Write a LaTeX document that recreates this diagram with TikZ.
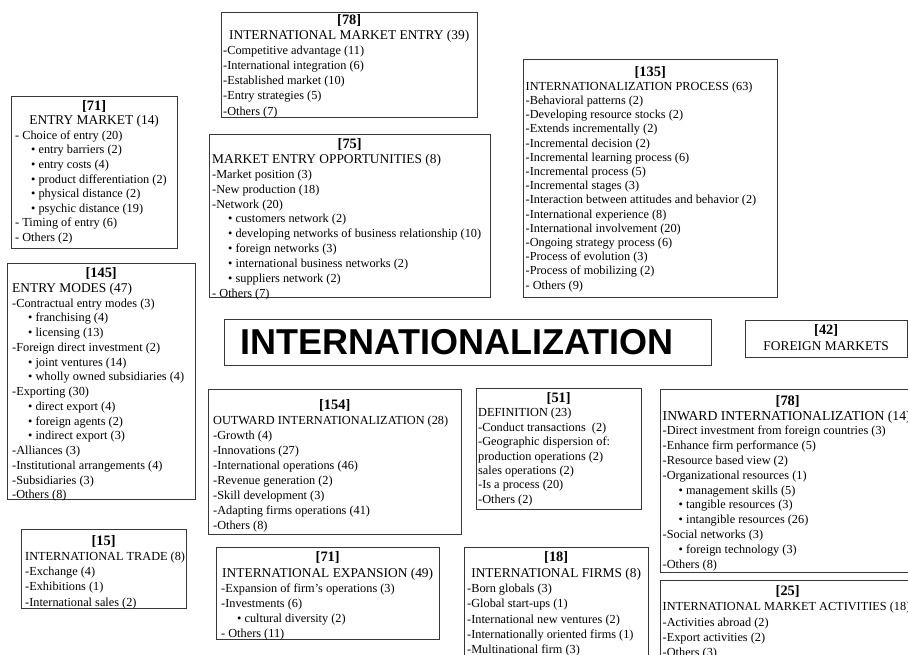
\documentclass[tikz,border=0pt]{standalone}
\usepackage{fontspec}
\setmainfont{Liberation Serif}
\newfontfamily\hvb{Liberation Sans}
\newcommand{\hd}[2]{\makebox[#1][c]{\fontsize{14.4}{14}\selectfont\bfseries #2}}
\newcommand{\ct}[2]{\makebox[#1][c]{#2}}
\newcommand{\hh}[1]{\fontsize{13.4}{14}\selectfont #1}
\newcommand{\bu}{\hspace*{16pt}\textbullet\ }
\begin{document}
\begin{tikzpicture}[x=1pt,y=-1pt,
  bx/.style={draw=black!78, line width=1.1pt, rectangle, inner sep=0pt, anchor=north west},
  tx/.style={anchor=north west, inner sep=0pt, align=left, font=\fontsize{12.3}{#1}\selectfont}]
\useasboundingbox (0,0) rectangle (908,654);
\clip (0,0) rectangle (908,654);

% ENTRY MARKET
\node[bx, minimum width=166pt, minimum height=152pt] (b71a) at (11,96) {};
\node[tx=14.6] (t71a) at (15,100) {\hd{158pt}{[71]}\\
\ct{158pt}{\hh{ENTRY MARKET (14)}}\\
- Choice of entry (20)\\
\bu entry barriers (2)\\
\bu entry costs (4)\\
\bu product differentiation (2)\\
\bu physical distance (2)\\
\bu psychic distance (19)\\
- Timing of entry (6)\\
- Others (2)};

% ENTRY MODES
\node[bx, minimum width=188pt, minimum height=236pt] (b145) at (7,263) {};
\node[tx=14.75] (t145) at (12,267.5) {\hd{178pt}{[145]}\\
\hh{ENTRY MODES (47)}\\
-Contractual entry modes (3)\\
\bu franchising (4)\\
\bu licensing (13)\\
-Foreign direct investment (2)\\
\bu joint ventures (14)\\
\bu wholly owned subsidiaries (4)\\
-Exporting (30)\\
\bu direct export (4)\\
\bu foreign agents (2)\\
\bu indirect export (3)\\
-Alliances (3)\\
-Institutional arrangements (4)\\
-Subsidiaries (3)\\
-Others (8)};

% INTERNATIONAL TRADE
\node[bx, minimum width=165pt, minimum height=79pt] (b15) at (21,529) {};
\node[tx=15.25] (t15) at (25,535) {\hd{157pt}{[15]}\\
INTERNATIONAL TRADE (8)\\
-Exchange (4)\\
-Exhibitions (1)\\
-International sales (2)};

% INTERNATIONAL MARKET ENTRY
\node[bx, minimum width=256pt, minimum height=105pt] (b78a) at (221,12) {};
\node[tx=15.1] (t78a) at (223,14.3) {\hd{252pt}{[78]}\\
\ct{252pt}{\hh{INTERNATIONAL MARKET ENTRY (39)}}\\
-Competitive advantage (11)\\
-International integration (6)\\
-Established market (10)\\
-Entry strategies (5)\\
-Others (7)};

% MARKET ENTRY OPPORTUNITIES
\node[bx, minimum width=281pt, minimum height=163pt] (b75) at (209,134) {};
\node[tx=14.9] (t75) at (212,138.3) {\hd{275pt}{[75]}\\
\hh{MARKET ENTRY OPPORTUNITIES (8)}\\
-Market position (3)\\
-New production (18)\\
-Network (20)\\
\bu customers network (2)\\
\bu developing networks of business relationship (10)\\
\bu foreign networks (3)\\
\bu international business networks (2)\\
\bu suppliers network (2)\\
- Others (7)};

% INTERNATIONALIZATION PROCESS
\node[bx, minimum width=254pt, minimum height=238pt] (b135) at (523,59) {};
\node[tx=14.2] (t135) at (525.5,66) {\hd{249pt}{[135]}\\
INTERNATIONALIZATION PROCESS (63)\\
-Behavioral patterns (2)\\
-Developing resource stocks (2)\\
-Extends incrementally (2)\\
-Incremental decision (2)\\
-Incremental learning process (6)\\
-Incremental process (5)\\
-Incremental stages (3)\\
-Interaction between attitudes and behavior (2)\\
-International experience (8)\\
-International involvement (20)\\
-Ongoing strategy process (6)\\
-Process of evolution (3)\\
-Process of mobilizing (2)\\
- Others (9)};

% CENTRAL
\node[bx, minimum width=487pt, minimum height=46pt] (bc) at (224,319) {};
\node[inner sep=0pt, font=\hvb\bfseries\fontsize{36}{36}\selectfont] (tc) at (457,342) {INTERNATIONALIZATION};

% FOREIGN MARKETS
\node[bx, minimum width=162pt, minimum height=37pt] (b42) at (745,320) {};
\node[tx=16] (t42) at (747,324) {\hd{158pt}{[42]}\\
\ct{158pt}{\hh{FOREIGN MARKETS}}};

% OUTWARD
\node[bx, minimum width=253pt, minimum height=145pt] (b154) at (208,389) {};
\node[tx=15.1] (t154) at (213,399) {\hd{243pt}{[154]}\\
OUTWARD INTERNATIONALIZATION (28)\\
-Growth (4)\\
-Innovations (27)\\
-International operations (46)\\
-Revenue generation (2)\\
-Skill development (3)\\
-Adapting firms operations (41)\\
-Others (8)};

% DEFINITION
\node[bx, minimum width=165pt, minimum height=121pt] (b51) at (476,388) {};
\node[tx=14.4] (t51) at (478,392.3) {\hd{161pt}{[51]}\\
DEFINITION (23)\\
-Conduct transactions\ \ (2)\\
-Geographic dispersion of:\\
production operations (2)\\
sales operations (2)\\
-Is a process (20)\\
-Others (2)};

% INWARD
\node[bx, minimum width=255pt, minimum height=183pt] (b78b) at (660,389) {};
\node[tx=14.8] (t78b) at (662.5,395) {\hd{250pt}{[78]}\\
{\fontsize{13.7}{14}\selectfont INWARD INTERNATIONALIZATION (14)}\\
-Direct investment from foreign countries (3)\\
-Enhance firm performance (5)\\
-Resource based view (2)\\
-Organizational resources (1)\\
\bu management skills (5)\\
\bu tangible resources (3)\\
\bu intangible resources (26)\\
-Social networks (3)\\
\bu foreign technology (3)\\
-Others (8)};

% INTERNATIONAL EXPANSION
\node[bx, minimum width=223pt, minimum height=92pt] (b71b) at (216,547) {};
\node[tx=15.2] (t71b) at (221,551.7) {\hd{213pt}{[71]}\\
\ct{213pt}{\hh{INTERNATIONAL EXPANSION (49)}}\\
-Expansion of firm's operations (3)\\
-Investments (6)\\
\bu cultural diversity (2)\\
- Others (11)};

% INTERNATIONAL FIRMS
\node[bx, minimum width=184pt, minimum height=140pt] (b18) at (464,547) {};
\node[tx=15.3] (t18) at (467,551.7) {\hd{178pt}{[18]}\\
\ct{178pt}{\hh{INTERNATIONAL FIRMS (8)}}\\
-Born globals (3)\\
-Global start-ups (1)\\
-International new ventures (2)\\
-Internationally oriented firms (1)\\
-Multinational firm (3)};

% INTERNATIONAL MARKET ACTIVITIES
\node[bx, minimum width=255pt, minimum height=100pt] (b25) at (660,580) {};
\node[tx=15.4] (t25) at (662.5,585) {\hd{250pt}{[25]}\\
INTERNATIONAL MARKET ACTIVITIES (18)\\
-Activities abroad (2)\\
-Export activities (2)\\
-Others (3)};
\end{tikzpicture}
\end{document}
